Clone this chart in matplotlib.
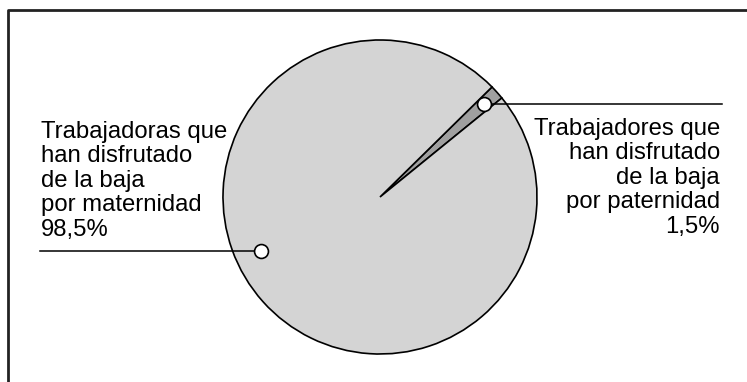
import numpy as np
import matplotlib.pyplot as plt

# datos
labels = ['Trabajadores que\nhan disfrutado\nde la baja\npor paternidad\n1,5%',
          'Trabajadoras que\nhan disfrutado\nde la baja\npor maternidad\n98,5%']
values = [1.5, 98.5]
colors = ['#a0a0a0', '#d4d4d4']

plt.rcParams['font.family'] = ['Liberation Sans', 'DejaVu Sans']

fig = plt.figure(figsize=(7.47, 3.82), dpi=100)
ax = fig.add_axes([0, 0, 1, 1])

# marco (solo arriba e izquierda)
ax.plot([8, 8, 747], [0, 372, 372], color='#222222', lw=2, solid_capstyle='butt')

cx, cy, r = 380, 185, 157
start = 39.1
wedges, _ = ax.pie(values, colors=colors, startangle=start, center=(cx, cy), radius=r,
                   wedgeprops=dict(edgecolor='black', linewidth=1.2), frame=True)
ax.set_xlim(0, 747)
ax.set_ylim(0, 382)
ax.set_aspect('equal')
ax.axis('off')

# puntos y lineas guia
pts = [(41.8, 0.89), (204.4, 0.83)]
ends = [722, 40]
for (ang, fr), xe in zip(pts, ends):
    px = cx + r * fr * np.cos(np.radians(ang))
    py = cy + r * fr * np.sin(np.radians(ang))
    ax.plot([px, xe], [py, py], color='black', lw=1.1, zorder=3)
    ax.plot(px, py, 'o', ms=10, mfc='white', mec='black', mew=1.2, zorder=4)

ax.text(720, 264, labels[0], ha='right', va='top', fontsize=17.2, linespacing=1.14)
ax.text(41, 261, labels[1], ha='left', va='top', fontsize=17.2, linespacing=1.14)

fig.savefig('out.png', dpi=100)
